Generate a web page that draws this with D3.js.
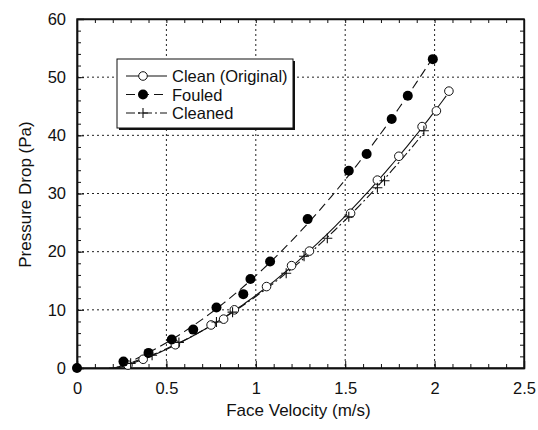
<!DOCTYPE html>
<html>
<head>
<meta charset="utf-8">
<script src="https://cdn.jsdelivr.net/npm/d3@7"></script>
<style>
  body { margin: 0; background: #fff; }
  svg { font-family: "Liberation Sans", Arial, sans-serif; }
</style>
</head>
<body>
<div id="chart"></div>
<script>
// values: [face velocity (m/s), pressure drop (Pa)]
var clean_data = [
  [0.285, 0.5], [0.37, 1.5], [0.55, 4.0], [0.75, 7.4], [0.82, 8.4], [0.88, 10.0],
  [1.06, 14.0], [1.20, 17.6], [1.30, 20.1], [1.53, 26.6], [1.68, 32.3],
  [1.80, 36.4], [1.93, 41.5], [2.01, 44.2], [2.08, 47.6]
];
var fouled_data = [
  [0, 0], [0.26, 1.1], [0.40, 2.6], [0.53, 4.9], [0.65, 6.6], [0.78, 10.4],
  [0.93, 12.7], [0.97, 15.3], [1.08, 18.3], [1.29, 25.6], [1.52, 33.9],
  [1.62, 36.8], [1.76, 42.8], [1.85, 46.8], [1.99, 53.1]
];
var cleaned_data = [
  [0.30, 0.8], [0.42, 2.2], [0.57, 4.4], [0.78, 7.9], [0.87, 9.6], [1.17, 16.3],
  [1.27, 19.2], [1.40, 22.3], [1.52, 26.0], [1.68, 31.0], [1.72, 32.2], [1.94, 40.8]
];
var series_names = ["Clean (Original)", "Fouled", "Cleaned"];
var x_ticks = [0, 0.5, 1, 1.5, 2, 2.5];
var y_ticks = [0, 10, 20, 30, 40, 50, 60];

var width = 538, height = 430;
var margin = { top: 19, right: 14, bottom: 62, left: 77 };
var plot_w = width - margin.left - margin.right;
var plot_h = height - margin.top - margin.bottom;

var svg = d3.select("#chart").append("svg")
    .attr("width", width)
    .attr("height", height);

var g = svg.append("g")
    .attr("transform", "translate(" + margin.left + "," + margin.top + ")");

var x = d3.scaleLinear().domain([0, 2.5]).range([0, plot_w]);
var y = d3.scaleLinear().domain([0, 60]).range([plot_h, 0]);

// dotted grid
g.selectAll(".gx").data(x_ticks.slice(1, -1)).enter().append("line")
    .attr("x1", function(d) { return x(d); }).attr("x2", function(d) { return x(d); })
    .attr("y1", 0).attr("y2", plot_h)
    .attr("stroke", "#222").attr("stroke-width", 1).attr("stroke-dasharray", "2,3");
g.selectAll(".gy").data(y_ticks.slice(1, -1)).enter().append("line")
    .attr("y1", function(d) { return y(d); }).attr("y2", function(d) { return y(d); })
    .attr("x1", 0).attr("x2", plot_w)
    .attr("stroke", "#222").attr("stroke-width", 1).attr("stroke-dasharray", "2,3");

// inward ticks on all four sides
var x_minor = d3.range(0, 26).map(function(i) { return i / 10; });
var y_minor = d3.range(0, 31).map(function(i) { return i * 2; });

var axis_bottom = d3.axisBottom(x).tickValues(x_minor).tickSizeInner(-4).tickSizeOuter(0).tickFormat("");
var axis_top = d3.axisTop(x).tickValues(x_minor).tickSizeInner(-4).tickSizeOuter(0).tickFormat("");
var axis_left = d3.axisLeft(y).tickValues(y_minor).tickSizeInner(-4).tickSizeOuter(0).tickFormat("");
var axis_right = d3.axisRight(y).tickValues(y_minor).tickSizeInner(-4).tickSizeOuter(0).tickFormat("");

g.append("g").attr("transform", "translate(0," + plot_h + ")").call(axis_bottom);
g.append("g").call(axis_top);
g.append("g").call(axis_left);
g.append("g").attr("transform", "translate(" + plot_w + ",0)").call(axis_right);

// labelled major ticks
g.append("g").attr("transform", "translate(0," + plot_h + ")")
    .call(d3.axisBottom(x).tickValues(x_ticks).tickSize(-7).tickPadding(14).tickFormat(d3.format("")));
g.append("g")
    .call(d3.axisLeft(y).tickValues(y_ticks).tickSize(-7).tickPadding(11).tickFormat(d3.format("")));

g.selectAll(".domain").attr("stroke", "#111").attr("stroke-width", 1.4);
g.selectAll(".tick line").attr("stroke", "#111");
g.selectAll(".tick text").attr("font-size", 16.5).attr("fill", "#111")
    .attr("font-family", "'Liberation Sans', Arial, sans-serif");

// frame
g.append("rect").attr("width", plot_w).attr("height", plot_h)
    .attr("fill", "none").attr("stroke", "#111").attr("stroke-width", 1.4);

// quadratic least squares trend line through the measured points
var fit_quadratic = function(points) {
  var pts = points.filter(function(p) { return p[0] > 0; });
  var s = [0, 0, 0, 0, 0], t = [0, 0, 0];
  pts.forEach(function(p) {
    var xp = 1;
    for (var k = 0; k < 5; k++) { s[k] += xp; if (k < 3) t[k] += xp * p[1]; xp *= p[0]; }
  });
  var m = [[s[0], s[1], s[2], t[0]], [s[1], s[2], s[3], t[1]], [s[2], s[3], s[4], t[2]]];
  for (var i = 0; i < 3; i++) {
    for (var r = i + 1; r < 3; r++) {
      var f = m[r][i] / m[i][i];
      for (var c = i; c < 4; c++) m[r][c] -= f * m[i][c];
    }
  }
  var coef = [0, 0, 0];
  for (var i = 2; i >= 0; i--) {
    var v = m[i][3];
    for (var c = i + 1; c < 3; c++) v -= m[i][c] * coef[c];
    coef[i] = v / m[i][i];
  }
  var lo = d3.min(pts, function(p) { return p[0]; });
  var hi = d3.max(pts, function(p) { return p[0]; });
  return d3.range(lo - 0.08, hi + 0.001, 0.02).map(function(v) {
    return [v, coef[0] + coef[1] * v + coef[2] * v * v];
  });
};

var line = d3.line()
    .x(function(d) { return x(d[0]); })
    .y(function(d) { return y(Math.max(0, d[1])); });

var styles = [
  { data: clean_data, dash: null, marker: "open" },
  { data: fouled_data, dash: "9,5", marker: "filled" },
  { data: cleaned_data, dash: "9,3,2,3", marker: "plus" }
];

styles.forEach(function(s) {
  g.append("path")
      .datum(fit_quadratic(s.data))
      .attr("d", line)
      .attr("fill", "none")
      .attr("stroke", "#111")
      .attr("stroke-width", 1.1)
      .attr("stroke-dasharray", s.dash);
});

var draw_marker = function(sel, type, cx, cy) {
  if (type === "open") {
    sel.append("circle").attr("cx", cx).attr("cy", cy).attr("r", 4.3)
        .attr("fill", "#fff").attr("stroke", "#111").attr("stroke-width", 1);
  } else if (type === "filled") {
    sel.append("circle").attr("cx", cx).attr("cy", cy).attr("r", 5)
        .attr("fill", "#000");
  } else {
    sel.append("path").attr("d", "M" + (cx - 5) + "," + cy + "h10M" + cx + "," + (cy - 5) + "v10")
        .attr("stroke", "#111").attr("stroke-width", 1.1);
  }
};

styles.forEach(function(s) {
  s.data.forEach(function(d) {
    draw_marker(g, s.marker, x(d[0]), y(d[1]));
  });
});

// legend
var legend = svg.append("g").attr("transform", "translate(117,59)");
legend.append("rect").attr("x", 2).attr("y", 2).attr("width", 176).attr("height", 69).attr("fill", "#111");
legend.append("rect").attr("width", 176).attr("height", 69)
    .attr("fill", "#fff").attr("stroke", "#111").attr("stroke-width", 1);

styles.forEach(function(s, i) {
  var ly = 17 + i * 18.5;
  legend.append("line")
      .attr("x1", 9).attr("x2", 50).attr("y1", ly).attr("y2", ly)
      .attr("stroke", "#111").attr("stroke-width", 1.1)
      .attr("stroke-dasharray", s.dash);
  draw_marker(legend, s.marker, 26, ly);
  legend.append("text")
      .attr("x", 55).attr("y", ly + 6)
      .attr("font-size", 16.5).attr("fill", "#111")
      .text(series_names[i]);
});

// axis titles
svg.append("text")
    .attr("x", margin.left + plot_w / 2 - 2).attr("y", 416)
    .attr("text-anchor", "middle").attr("font-size", 17).attr("fill", "#111")
    .text("Face Velocity (m/s)");
svg.append("text")
    .attr("transform", "translate(31," + (margin.top + plot_h / 2 + 1) + ") rotate(-90)")
    .attr("text-anchor", "middle").attr("font-size", 17).attr("fill", "#111")
    .text("Pressure Drop (Pa)");
</script>
</body>
</html>
